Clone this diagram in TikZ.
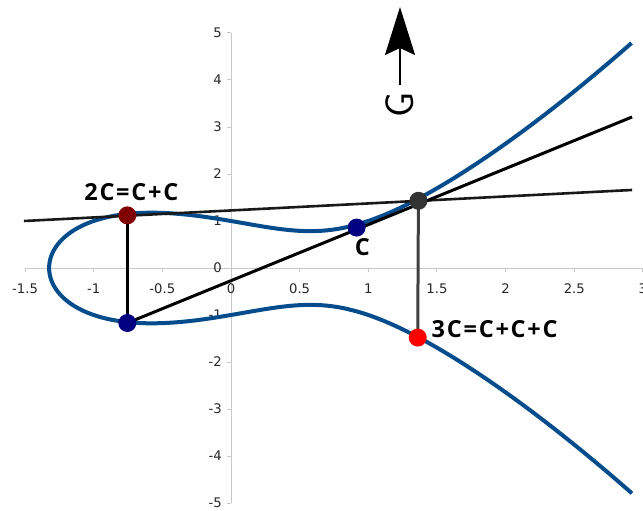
\documentclass[tikz,border=0pt]{standalone}
\usepackage{fontspec}
\setmainfont{DejaVu Sans}
\newfontfamily\lblfont{Open Sans}[LetterSpace=7.5]
\newfontfamily\gfont{Latin Modern Sans}
\usetikzlibrary{arrows.meta,backgrounds}
\definecolor{curveblue}{RGB}{4,76,140}
\definecolor{axisgray}{RGB}{200,200,200}
\definecolor{dotred}{RGB}{128,0,0}
\definecolor{dotnavy}{RGB}{0,0,128}
\definecolor{dotgray}{RGB}{51,51,51}
\definecolor{dotbright}{RGB}{255,0,0}
\definecolor{vgray}{RGB}{64,64,64}
\begin{document}
\begin{tikzpicture}[x=1pt,y=-1pt,
  dot/.style={circle,inner sep=0pt,minimum size=18pt},
  ptlabel/.style={font=\lblfont\bfseries\fontsize{23.5}{26}\selectfont,inner sep=0pt},
  ticklbl/.style={font=\fontsize{13.2}{15}\selectfont,text=black!85,inner sep=0pt},
  axisline/.style={draw=axisgray,line width=1pt},
  curveline/.style={draw=curveblue,line width=4pt},
  blackline/.style={draw=black,line width=3pt},
  flatline/.style={draw=black!90,line width=2.6pt},
  grayline/.style={draw=vgray,line width=3pt},
  gvec/.style={line width=2pt,-{Stealth[length=48pt,width=30pt,inset=7pt]}}]
\useasboundingbox (0,0) rectangle (643,511);

\begin{scope}[shift={(231pt,-268pt)},x=137.3pt,y=47pt]
  % points
  \node[dot,fill=dotred] (c2) at (-0.755,1.12) {};
  \node[dot,fill=dotnavy] (m2) at (-0.755,-1.17) {};
  \node[dot,fill=dotnavy] (c1) at (0.915,0.86) {};
  \node[dot,fill=dotgray] (p) at (1.365,1.43) {};
  \node[dot,fill=dotbright] (c3) at (1.36,-1.48) {};
  \coordinate (fl) at (-1.508,1.0);
  \coordinate (fr) at (2.921,1.66);
  \coordinate (le) at (2.921,3.213);

  \begin{scope}[on background layer]
    % axes
    \draw[axisline] (-1.5,0) -- (3,0);
    \draw[axisline] (0,-5) -- (0,5);
    \foreach \v in {-1.5,-1,-0.5,0,0.5,1,1.5,2,2.5,3} {
      \draw[axisline] (\v,0) -- ++(0,-4pt);
      \node[ticklbl] at ([yshift=-21pt]\v,0) {\v};
    }
    \foreach \v in {-5,...,5} {
      \draw[axisline] (0,\v) -- ++(-4pt,0);
      \node[ticklbl,anchor=east] at ([xshift=-9pt]0,\v) {\v};
    }
    % curve y^2 = x^3 - x + 1
    \draw[curveline] plot[domain=-2.0603:2.0603,samples=241,smooth,variable=\t]
      ({-1.3247+\t*\t},{\t*sqrt((-1.3247+\t*\t)^2-1.3247*(-1.3247+\t*\t)+0.75483)});
    % lines
    \draw[flatline] (fl) -- (fr);
    \draw[blackline] (m2.center) -- (le);
    \draw[blackline] (c2.center) -- (m2.center);
    \draw[grayline] (p.center) -- (c3.center);
  \end{scope}

  % labels
  \node[ptlabel,anchor=base] (l2) at ([xshift=4pt,yshift=14.4pt]c2.center) {2C=C+C};
  \node[ptlabel,anchor=base] (l1) at ([xshift=5.7pt,yshift=-28.4pt]c1.center) {C};
  \node[ptlabel,anchor=base west] (l3) at ([xshift=13.8pt,yshift=-0.4pt]c3.center) {3C=C+C+C};
\end{scope}

% rotated G with arrow
\node[font=\gfont\fontsize{40}{40}\selectfont,rotate=90,inner sep=0pt] (g) at (400,105) {G};
\coordinate (gtip) at (400,7);
\draw[gvec] ([yshift=7pt]g.east) -- (gtip);
\end{tikzpicture}
\end{document}
